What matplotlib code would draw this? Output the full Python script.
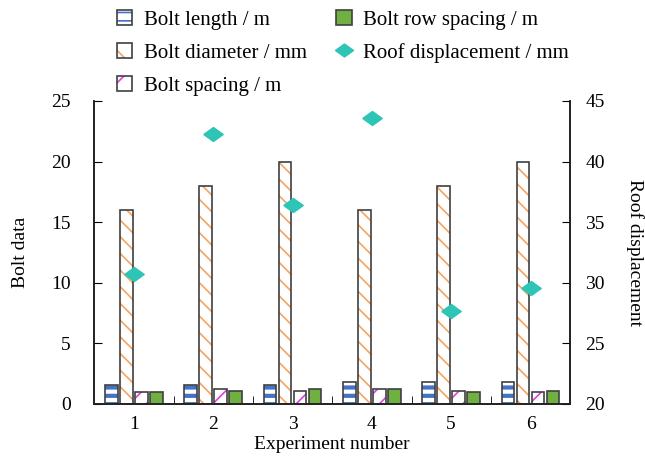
import matplotlib
matplotlib.use("Agg")
import matplotlib.pyplot as plt
import numpy as np
from matplotlib.patches import Patch
from matplotlib.lines import Line2D
from matplotlib.legend_handler import HandlerTuple

plt.rcParams['font.family'] = ['Liberation Serif', 'DejaVu Serif']

experiments = [1, 2, 3, 4, 5, 6]
bolt_length = [1.6, 1.6, 1.6, 1.8, 1.8, 1.8]
bolt_diameter = [16, 18, 20, 16, 18, 20]
bolt_spacing = [1.0, 1.2, 1.1, 1.2, 1.1, 1.0]
bolt_row_spacing = [1.0, 1.1, 1.2, 1.2, 1.0, 1.1]
roof_displacement = [30.7, 42.3, 36.4, 43.6, 27.7, 29.6]

fig = plt.figure(figsize=(6.45, 4.57), dpi=100)
ax = fig.add_axes([0.146, 0.116, 0.738, 0.663])
ax2 = ax.twinx()

x = np.array(experiments, dtype=float)
w = 0.16
offs = [-0.285, -0.095, 0.095, 0.285]
edge = '#404040'
blue, orange, magenta, green, teal = '#4472C4', '#F4A460', '#E040E0', '#70B040', '#2EC4B6'
series = [
    (bolt_length, 'white', blue, '--', 3.0),
    (bolt_diameter, 'white', orange, '\\\\', 1.2),
    (bolt_spacing, 'white', magenta, '//', 1.2),
    (bolt_row_spacing, green, None, None, 0),
]
for (vals, fc, hc, hatch, hlw), o in zip(series, offs):
    if hatch:
        plt.rcParams['hatch.linewidth'] = hlw
        ax.bar(x + o, vals, w, color=fc, edgecolor=hc, hatch=hatch, linewidth=0, zorder=2)
        ax.bar(x + o, vals, w, fill=False, edgecolor=edge, linewidth=1.2, zorder=3)
    else:
        ax.bar(x + o, vals, w, color=fc, edgecolor=edge, linewidth=1.2, zorder=3)

diamond = [(-1, 0), (0, 0.72), (1, 0), (0, -0.72), (-1, 0)]
ax2.plot(x, roof_displacement, linestyle='none', marker=diamond, color=teal,
         markersize=14, zorder=4)

ax.set_xlim(0.5, 6.5)
ax.set_ylim(0, 25)
ax2.set_ylim(20, 45)
ax.set_xticks(experiments)
ax.set_xticks(np.arange(1.5, 6.5, 1), minor=True)
ax.set_yticks([0, 5, 10, 15, 20, 25])
ax2.set_yticks([20, 25, 30, 35, 40, 45])
ax.tick_params(axis='x', which='major', direction='in', length=0, labelsize=14, pad=9)
ax.tick_params(axis='x', which='minor', direction='in', length=6)
ax.tick_params(axis='y', direction='in', length=6, labelsize=14, pad=17)
ax2.tick_params(axis='y', direction='in', length=6, labelsize=14, pad=11)
for a in (ax, ax2):
    a.spines['top'].set_visible(False)
    for s in a.spines.values():
        s.set_linewidth(1.2)
        s.set_color('#202020')

ax.set_xlabel('Experiment number', fontsize=14, va='top')
ax.xaxis.set_label_coords(0.5, -0.105)
ax.set_ylabel('Bolt data', fontsize=14, va='center')
ax.yaxis.set_label_coords(-0.155, 0.5)
ax2.set_ylabel('Roof displacement', fontsize=14, rotation=270, va='center')
ax2.yaxis.set_label_coords(1.137, 0.5)

def hpatch(hc, hatch, hlw):
    plt.rcParams['hatch.linewidth'] = hlw
    p1 = Patch(facecolor='white', edgecolor=hc, hatch=hatch, linewidth=0)
    p2 = Patch(fill=False, edgecolor=edge, linewidth=1.2)
    return (p1, p2)

handles = [
    hpatch(blue, '--', 2.5),
    hpatch(orange, '\\', 1.2),
    hpatch(magenta, '/', 1.2),
    Patch(facecolor=green, edgecolor=edge, linewidth=1.2),
    Line2D([], [], linestyle='none', marker=diamond, color=teal, markersize=13),
]
labels = ['Bolt length / m', 'Bolt diameter / mm', 'Bolt spacing / m',
          'Bolt row spacing / m', 'Roof displacement / mm']
fig.legend(handles, labels, loc='upper left', bbox_to_anchor=(0.152, 1.02), ncol=2,
           frameon=False, fontsize=15, handlelength=0.75, handleheight=0.75,
           handletextpad=0.55, columnspacing=1.4, labelspacing=0.63,
           handler_map={tuple: HandlerTuple(ndivide=1, pad=0)})

fig.savefig('out.png', dpi=100)
